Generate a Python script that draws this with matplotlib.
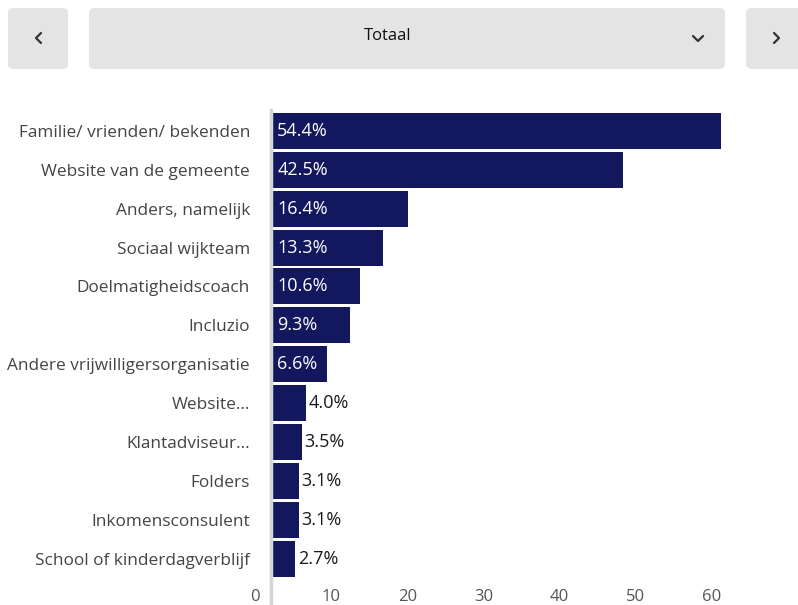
import matplotlib
matplotlib.use("Agg")
import matplotlib.pyplot as plt
from matplotlib.patches import FancyBboxPatch
from matplotlib.lines import Line2D

categories = [
    "Familie/ vrienden/ bekenden",
    "Website van de gemeente",
    "Anders, namelijk",
    "Sociaal wijkteam",
    "Doelmatigheidscoach",
    "Incluzio",
    "Andere vrijwilligersorganisatie",
    "Website...",
    "Klantadviseur...",
    "Folders",
    "Inkomensconsulent",
    "School of kinderdagverblijf",
]
values = [54.4, 42.5, 16.4, 13.3, 10.6, 9.3, 6.6, 4.0, 3.5, 3.1, 3.1, 2.7]
xtick_values = [0, 10, 20, 30, 40, 50, 60]
title = "Totaal"

W, H = 798, 605
FS = 12
FS_CAT = 12.4
FS_VAL = 13
BAR = "#12175e"
plt.rcParams["font.family"] = ["Open Sans", "DejaVu Sans"]

fig = plt.figure(figsize=(W / 100, H / 100), dpi=100)
fig.patch.set_facecolor("white")

def fx(px):
    return px / W

def fy(py):
    return 1 - py / H

# ---- header boxes ----
def box(x0, y0, x1, y1):
    p = FancyBboxPatch((fx(x0), fy(y1)), fx(x1 - x0), (y1 - y0) / H,
                       boxstyle="round,pad=0,rounding_size=0.008",
                       transform=fig.transFigure, facecolor="#e4e4e4",
                       edgecolor="none", zorder=0)
    fig.patches.append(p)

box(8, 8, 68, 69)
box(89, 8, 725, 69)
box(746, 8, 812, 69)

def chevron(pts):
    xs = [fx(p[0]) for p in pts]
    ys = [fy(p[1]) for p in pts]
    fig.lines.append(Line2D(xs, ys, transform=fig.transFigure, color="#333333",
                            lw=1.6, solid_capstyle="round", solid_joinstyle="round"))

chevron([(41, 33), (36, 38), (41, 43)])
chevron([(774, 33), (779, 38), (774, 43)])
chevron([(693, 36), (698, 41), (703, 36)])

fig.text(fx(388), fy(36), title, ha="center", va="center",
         fontsize=FS, color="#111111")

# ---- main axes ----
px_per_unit = 8.24
x0_px = 273
top_px, bot_px = 110, 605
ax = fig.add_axes([fx(x0_px), fy(bot_px), fx(60 * px_per_unit), (bot_px - top_px) / H])
n = len(categories)
pitch = 38.9
ax.set_xlim(0, 60)
ax.set_ylim(n - 1 + (bot_px - 559) / pitch, -(130.7 - top_px) / pitch)
ys = list(range(n))
ax.barh(ys, values, height=0.925, color=BAR, zorder=2)

for y, v in zip(ys, values):
    label = f"{v:.1f}%"
    if v >= 5:
        ax.annotate(label, (0, y), xytext=(3, 0), textcoords="offset points",
                    ha="left", va="center", color="white", fontsize=FS_VAL, zorder=3)
    else:
        ax.annotate(label, (v, y), xytext=(2, 0), textcoords="offset points",
                    ha="left", va="center", color="#1a1a1a", fontsize=FS_VAL, zorder=3)

ax.set_yticks(ys)
ax.set_yticklabels(categories)
ax.tick_params(axis="y", length=0, pad=15, labelsize=FS_CAT, labelcolor="#444444")
ax.set_xticks([])
for s in ["top", "right", "bottom"]:
    ax.spines[s].set_visible(False)
ax.spines["left"].set_color("#d6d6d6")
ax.spines["left"].set_linewidth(2.5)
ax.spines["left"].set_position(("outward", 1.5))
ax.set_facecolor("none")

# ---- x tick labels (separate scale strip, as in the reference) ----
ax2 = fig.add_axes([fx(255), fy(589), fx(712 - 255), 0.0001])
ax2.set_xlim(xtick_values[0], xtick_values[-1])
ax2.set_xticks(xtick_values)
ax2.set_xticklabels([str(t) for t in xtick_values])
ax2.tick_params(axis="x", length=0, pad=0, labelsize=FS, labelcolor="#555555")
ax2.set_yticks([])
for s in ax2.spines.values():
    s.set_visible(False)
ax2.set_facecolor("none")

fig.savefig("out.png", dpi=100)
